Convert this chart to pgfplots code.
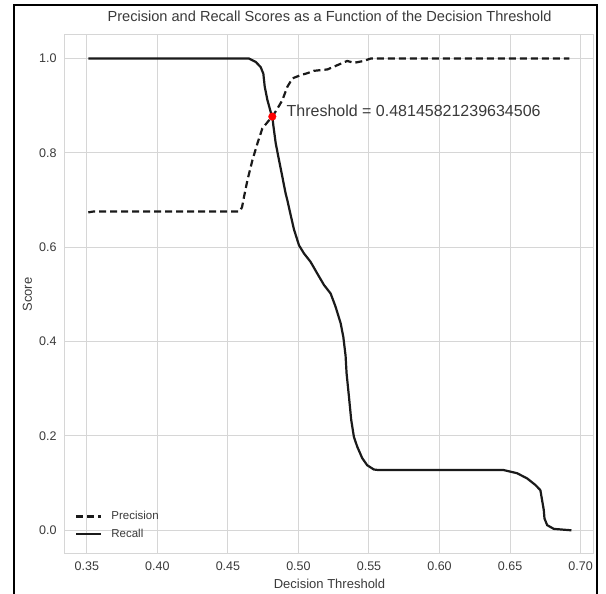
\documentclass[border=0pt]{standalone}
\usepackage{pgfplots}
\pgfplotsset{compat=1.18}
\usepackage{fontspec}
\setmainfont{Liberation Sans}
\definecolor{txt}{HTML}{3A3A3A}
\definecolor{gridc}{HTML}{D6D6D6}
\definecolor{curve}{HTML}{1A1A1A}
\begin{document}
\begin{tikzpicture}[x=1pt,y=1pt]
\useasboundingbox (-65,-40.1) rectangle (541,553.9);
\fill[white] (-65,-40.1) rectangle (541,553.9);
\begin{axis}[
  scale only axis, width=529pt, height=518.9pt,
  xmin=0.3345, xmax=0.7095, ymin=-0.05, ymax=1.05,
  xtick={0.35,0.40,0.45,0.50,0.55,0.60,0.65,0.70},
  ytick={0,0.2,0.4,0.6,0.8,1.0},
  /pgf/number format/assume math mode=true,
  xticklabel style={/pgf/number format/fixed, /pgf/number format/fixed zerofill, /pgf/number format/precision=2, yshift=-4pt},
  yticklabel style={/pgf/number format/fixed, /pgf/number format/fixed zerofill, /pgf/number format/precision=1, xshift=-5pt},
  scaled x ticks=false, scaled y ticks=false,
  tick label style={font=\fontsize{12.5}{15}\selectfont, text=txt},
  major tick length=0pt,
  grid=major,
  major grid style={gridc, line width=1pt},
  axis line style={gridc, line width=1pt},
  xlabel={Decision Threshold}, ylabel={Score},
  label style={font=\fontsize{13}{15}\selectfont, text=txt},
  xlabel style={at={(axis description cs:0.5,0)}, anchor=center, yshift=-30pt},
  ylabel style={at={(axis description cs:-0.0713,0.5)}, anchor=center},
  title={Precision and Recall Scores as a Function of the Decision Threshold},
  title style={font=\fontsize{14.6}{17}\selectfont, text=txt, at={(axis description cs:0.5,1)}, anchor=center, yshift=13pt},
  legend image code/.code={\draw[#1] (0pt,0pt) -- (25pt,0pt);},
  legend cell align=left,
  legend style={draw=none, fill=none, at={(axis description cs:0,0)}, anchor=south west,
    xshift=10pt, yshift=12.8pt, inner sep=0pt, column sep=8pt, row sep=4pt,
    font=\fontsize{11.5}{13}\selectfont, text=txt,
    nodes={inner sep=1pt, text height=9pt, text depth=2.6pt}},
]
\addplot[curve, line width=2.2pt, dash pattern=on 7pt off 4pt] coordinates {
(0.351,0.674) (0.355,0.676) (0.360,0.676) (0.400,0.676) (0.440,0.676) (0.4584,0.676)
(0.4600,0.685) (0.4614,0.707) (0.4638,0.742) (0.4673,0.784) (0.4709,0.820) (0.4744,0.852)
(0.4791,0.869) (0.4815,0.877) (0.4851,0.894) (0.4886,0.912) (0.4921,0.940) (0.4957,0.958)
(0.5016,0.965) (0.5063,0.969) (0.5108,0.974) (0.5205,0.977) (0.5299,0.989) (0.5346,0.995)
(0.5393,0.991) (0.5464,0.995) (0.5511,1.0) (0.6920,1.0)
};
\addlegendentry{Precision}
\addplot[curve, line width=2.2pt] coordinates {
(0.351,1.0) (0.4650,1.0) (0.4697,0.993) (0.4732,0.982) (0.4751,0.968) (0.4761,0.940)
(0.4780,0.912) (0.4803,0.887) (0.4815,0.877) (0.4822,0.858) (0.4839,0.820) (0.4862,0.785)
(0.4886,0.749) (0.4909,0.714) (0.4921,0.700) (0.4945,0.668) (0.4968,0.638) (0.5004,0.604)
(0.5039,0.587) (0.5086,0.569) (0.5134,0.544) (0.5181,0.520) (0.5228,0.502) (0.5263,0.474)
(0.5299,0.439) (0.5318,0.410) (0.5334,0.370) (0.5341,0.333) (0.5358,0.283) (0.5374,0.234)
(0.5393,0.198) (0.5417,0.177) (0.5452,0.153) (0.5487,0.138) (0.5534,0.129) (0.5560,0.128)
(0.6450,0.128) (0.6479,0.126) (0.6550,0.121) (0.6621,0.110) (0.6680,0.096) (0.6715,0.085)
(0.6727,0.064) (0.6739,0.043) (0.6744,0.025) (0.6763,0.011) (0.6810,0.003) (0.6935,0.0)
};
\addlegendentry{Recall}
\addplot[only marks, mark=*, mark size=3.8pt, color=red, forget plot] coordinates {(0.48145821239634506,0.877)};
\node[anchor=base west, font=\fontsize{16}{19}\selectfont, text=txt, inner sep=0pt]
  at (axis cs:0.49145821239634506,0.877) {Threshold = 0.48145821239634506};
\end{axis}
\draw[line width=2pt, black] (-51,-40.1) -- (-51,548.9) -- (532,548.9) -- (532,-40.1);
\end{tikzpicture}
\end{document}
